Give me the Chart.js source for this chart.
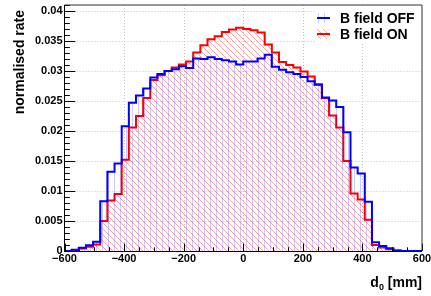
<!DOCTYPE html>
<html><head><meta charset="utf-8">
<script src="https://cdn.jsdelivr.net/npm/chart.js@4/dist/chart.umd.min.js"></script>
<style>html,body{margin:0;padding:0;background:#fff;}#wrap{width:431px;height:296px;}</style>
</head><body><div id="wrap"><canvas id="c" width="431" height="296"></canvas></div>
<script>
// ---- data ----
const X_MIN = -600, X_MAX = 600, BIN_WIDTH = 24;   // 50 bins of 24 mm
const offValues = [0, 0, 0.0002, 0.00055, 0.00095, 0.00155, 0.0083, 0.0132, 0.0146, 0.0208,
  0.0247, 0.0259, 0.0271, 0.0289, 0.0295, 0.0300, 0.0303, 0.0308, 0.0305, 0.0321,
  0.0320, 0.0323, 0.0320, 0.0318, 0.0316, 0.0311, 0.0316, 0.0316, 0.0321, 0.0327,
  0.0307, 0.0302, 0.0298, 0.0295, 0.0290, 0.0283, 0.0277, 0.0256, 0.0251, 0.0240,
  0.0198, 0.0139, 0.0129, 0.0082, 0.00145, 0.00083, 0.00045, 0.0001, 0, 0];
const onValues = [0, 0, 0.0001, 0.0004, 0.0007, 0.0011, 0.0050, 0.0084, 0.0095, 0.0152,
  0.0206, 0.0225, 0.0255, 0.0285, 0.0293, 0.0300, 0.0306, 0.0311, 0.0316, 0.0331,
  0.0343, 0.0353, 0.0358, 0.0365, 0.0369, 0.0372, 0.0370, 0.0368, 0.0364, 0.0344,
  0.0331, 0.0315, 0.0310, 0.0306, 0.0299, 0.0291, 0.0278, 0.0255, 0.0226, 0.0206,
  0.0150, 0.0096, 0.0086, 0.0052, 0.0010, 0.0006, 0.0003, 0.0001, 0, 0];
const seriesLabels = ['B field OFF', 'B field ON'];
const xTickValues = [-600, -400, -200, 0, 200, 400, 600];
const xTickLabels = ['\u2212600', '\u2212400', '\u2212200', '0', '200', '400', '600'];
const yTickValues = [0, 0.005, 0.01, 0.015, 0.02, 0.025, 0.03, 0.035, 0.04];
const yTickLabels = ['0', '0.005', '0.01', '0.015', '0.02', '0.025', '0.03', '0.035', '0.04'];
const Y_MAX = 0.041;
const X_MINOR_STEP = 50, Y_MINOR_STEP = 0.001;
const yTitle = 'normalised rate';
const xTitleParts = ['d', '0', ' [mm]'];

// ---- helpers ----
function toSteps(vals) {
  const pts = vals.map((v, k) => ({ x: X_MIN + k * BIN_WIDTH, y: v }));
  pts.push({ x: X_MIN + vals.length * BIN_WIDTH, y: vals[vals.length - 1] });
  return pts;
}
function makePattern(kind) {
  const c = document.createElement('canvas');
  const n = 6; c.width = n; c.height = n;
  const g = c.getContext('2d');
  if (kind === 'vert') {
    g.fillStyle = 'rgba(0,0,255,0.2)';
    g.fillRect(0, 0, 1, n);
  } else {
    g.fillStyle = 'rgba(255,0,0,0.36)';
    for (let i = 0; i < n; i++) g.fillRect(i, i, 1, 1);
  }
  return document.getElementById('c').getContext('2d').createPattern(c, 'repeat');
}
const FONT = '"Liberation Sans", Arial, Helvetica, sans-serif';
const bluePat = makePattern('vert');
const redPat = makePattern('diag');

const rootStyle = {
  id: 'rootStyle',
  beforeDatasetsDraw(chart) {
    const { ctx, chartArea: a, scales: { x, y } } = chart;
    ctx.save();
    ctx.strokeStyle = '#c4c4c4'; ctx.lineWidth = 1; ctx.setLineDash([1, 2]);
    xTickValues.forEach(v => {
      if (v <= X_MIN || v >= X_MAX) return;
      const px = Math.round(x.getPixelForValue(v)) + 0.5;
      ctx.beginPath(); ctx.moveTo(px, a.top); ctx.lineTo(px, a.bottom); ctx.stroke();
    });
    yTickValues.forEach(v => {
      if (v <= 0) return;
      const py = Math.round(y.getPixelForValue(v)) + 0.5;
      ctx.beginPath(); ctx.moveTo(a.left, py); ctx.lineTo(a.right, py); ctx.stroke();
    });
    ctx.restore();
  },
  afterDatasetsDraw(chart) {
    const { ctx, chartArea: a, scales: { x, y } } = chart;
    ctx.save();
    // ticks
    ctx.strokeStyle = '#000'; ctx.lineWidth = 1;
    const yMaj = 0.03 * (a.right - a.left), xMaj = 0.03 * (a.bottom - a.top);
    for (let i = 0; i * Y_MINOR_STEP <= Y_MAX + 1e-9; i++) {
      const v = i * Y_MINOR_STEP;
      const py = Math.round(y.getPixelForValue(v)) + 0.5;
      const len = (i % 5 === 0) ? yMaj : yMaj / 2;
      ctx.beginPath(); ctx.moveTo(a.left, py); ctx.lineTo(a.left + len, py); ctx.stroke();
    }
    for (let v = X_MIN; v <= X_MAX; v += X_MINOR_STEP) {
      const px = Math.round(x.getPixelForValue(v)) + 0.5;
      const len = ((v - X_MIN) % 200 === 0) ? xMaj : xMaj / 2;
      ctx.beginPath(); ctx.moveTo(px, a.bottom); ctx.lineTo(px, a.bottom - len); ctx.stroke();
    }
    // frame
    ctx.strokeStyle = '#333';
    ctx.beginPath(); ctx.moveTo(a.left, a.top); ctx.lineTo(a.right, a.top); ctx.lineTo(a.right, a.bottom); ctx.stroke();
    ctx.strokeStyle = '#000';
    ctx.beginPath(); ctx.moveTo(a.left, a.top); ctx.lineTo(a.left, a.bottom + 0.5); ctx.lineTo(a.right, a.bottom + 0.5); ctx.stroke();

    // legend
    ctx.fillStyle = '#fff';
    ctx.fillRect(315, 6, 105, 38);
    const rows = [
      { label: seriesLabels[0], color: '#0000ff', pat: bluePat, yc: 18 },
      { label: seriesLabels[1], color: '#ff0000', pat: redPat, yc: 34 }
    ];
    rows.forEach(r => {
      ctx.fillStyle = r.pat;
      ctx.fillRect(317, r.yc - 5, 13, 10);
      ctx.strokeStyle = r.color; ctx.lineWidth = 2;
      ctx.beginPath(); ctx.moveTo(317, r.yc); ctx.lineTo(330, r.yc); ctx.stroke();
      ctx.fillStyle = '#000';
      ctx.font = 'bold 14px ' + FONT;
      ctx.textAlign = 'left'; ctx.textBaseline = 'alphabetic';
      ctx.fillText(r.label, 340, r.yc + 5);
    });

    // y title
    ctx.save();
    ctx.translate(24, 10); ctx.rotate(-Math.PI / 2);
    ctx.font = 'bold 14px ' + FONT; ctx.textAlign = 'right'; ctx.textBaseline = 'alphabetic';
    ctx.fillStyle = '#000';
    ctx.fillText(yTitle, 0, 0);
    ctx.restore();

    // x title (right aligned, with subscript)
    const big = 'bold 14px ' + FONT, small = 'bold 9px ' + FONT;
    ctx.font = big; const w0 = ctx.measureText(xTitleParts[0]).width, w2 = ctx.measureText(xTitleParts[2]).width;
    ctx.font = small; const w1 = ctx.measureText(xTitleParts[1]).width;
    let xs = a.right - (w0 + w1 + w2);
    const base = 287;
    ctx.fillStyle = '#000'; ctx.textAlign = 'left'; ctx.textBaseline = 'alphabetic';
    ctx.font = big; ctx.fillText(xTitleParts[0], xs, base); xs += w0;
    ctx.font = small; ctx.fillText(xTitleParts[1], xs, base + 3); xs += w1;
    ctx.font = big; ctx.fillText(xTitleParts[2], xs, base);
    ctx.restore();
  }
};

new Chart(document.getElementById('c'), {
  type: 'line',
  data: {
    datasets: [
      { label: seriesLabels[0], data: toSteps(offValues), stepped: 'after', borderColor: '#0000ff', borderWidth: 2,
        backgroundColor: bluePat, fill: 'origin', pointRadius: 0, order: 0 },
      { label: seriesLabels[1], data: toSteps(onValues), stepped: 'after', borderColor: '#ff0000', borderWidth: 2,
        backgroundColor: redPat, fill: 'origin', pointRadius: 0, order: 1 }
    ]
  },
  options: {
    responsive: false, animation: false, devicePixelRatio: 1,
    layout: { padding: { top: 5, right: 9, left: 0, bottom: 0 } },
    plugins: { legend: { display: false }, tooltip: { enabled: false } },
    scales: {
      x: {
        type: 'linear', min: X_MIN, max: X_MAX,
        afterBuildTicks(s) { s.ticks = xTickValues.map(v => ({ value: v })); },
        afterFit(s) { s.height = 45; s.paddingLeft = 0; s.paddingRight = 0; },
        ticks: { autoSkip: false, maxRotation: 0, padding: 1, color: '#000',
          font: { family: FONT, size: 11, weight: 'bold' },
          callback: v => xTickLabels[xTickValues.indexOf(v)] },
        grid: { display: false, drawTicks: false }, border: { display: false }
      },
      y: {
        type: 'linear', min: 0, max: Y_MAX,
        afterBuildTicks(s) { s.ticks = yTickValues.map(v => ({ value: v })); },
        afterFit(s) { s.width = 64.5; s.paddingTop = 0; s.paddingBottom = 0; },
        ticks: { padding: 2, color: '#000', font: { family: FONT, size: 11, weight: 'bold' },
          callback: v => yTickLabels[yTickValues.indexOf(v)] },
        grid: { display: false, drawTicks: false }, border: { display: false }
      }
    }
  },
  plugins: [rootStyle]
});
</script></body></html>
